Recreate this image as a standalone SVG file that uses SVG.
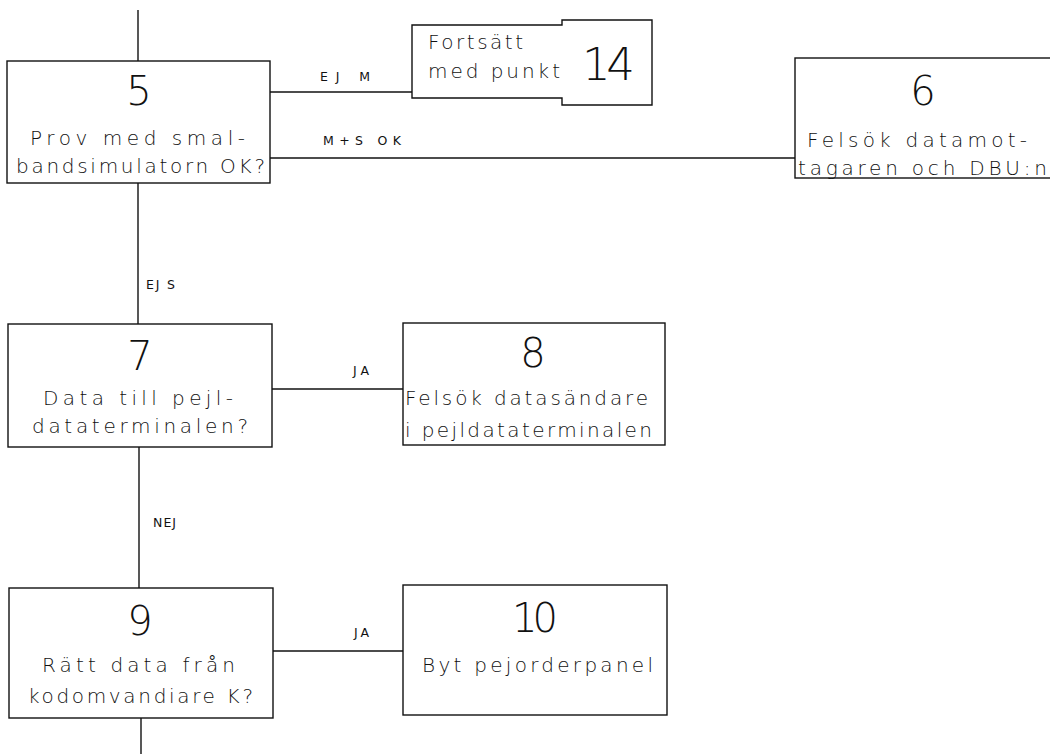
<svg xmlns="http://www.w3.org/2000/svg" width="1050" height="754" viewBox="0 0 1050 754">
<style>
.box{fill:none;stroke:#111;stroke-width:1.4}
.ln{fill:none;stroke:#111;stroke-width:1.4}
.num{font-family:"DejaVu Sans","Liberation Sans",sans-serif;font-weight:200;font-size:40px;fill:#111;text-anchor:middle}
.t{font-family:"DejaVu Sans","Liberation Sans",sans-serif;font-weight:200;font-size:20px;fill:#111}
.lbl{font-family:"DejaVu Sans","Liberation Sans",sans-serif;font-size:12.5px;fill:#111}
</style>
<rect width="1050" height="754" fill="#fff"/>
<g id="connectors">
<line class="ln" x1="138" y1="10" x2="138" y2="61"/>
<line class="ln" x1="270" y1="92" x2="412" y2="92"/>
<line class="ln" x1="270" y1="158" x2="795" y2="158"/>
<line class="ln" x1="138" y1="183" x2="138" y2="324"/>
<line class="ln" x1="272" y1="389" x2="403" y2="389"/>
<line class="ln" x1="139" y1="447" x2="139" y2="588"/>
<line class="ln" x1="273" y1="651" x2="403" y2="651"/>
<line class="ln" x1="141" y1="718" x2="141" y2="754"/>
<text class="lbl" x="320" y="81" textLength="50" lengthAdjust="spacing">EJ M</text>
<text class="lbl" x="323" y="145" textLength="78" lengthAdjust="spacing">M+S OK</text>
<text class="lbl" x="146" y="289" textLength="29" lengthAdjust="spacing">EJ S</text>
<text class="lbl" x="153" y="527" textLength="23" lengthAdjust="spacing">NEJ</text>
<text class="lbl" x="353" y="375" textLength="16" lengthAdjust="spacing">JA</text>
<text class="lbl" x="354" y="637" textLength="15" lengthAdjust="spacing">JA</text>
</g>
<g id="node5">
<rect class="box" x="7" y="61" width="263" height="122"/>
<text class="num" x="139" y="105">5</text>
<text class="t" x="30" y="145" textLength="215" lengthAdjust="spacing">Prov med smal-</text>
<text class="t" x="16" y="173" textLength="249" lengthAdjust="spacing">bandsimulatorn OK?</text>
</g>
<g id="node14">
<path class="box" d="M412,25 H562 V20 H652 V105 H562 V98 H412 Z"/>
<text class="t" x="428" y="49" textLength="95" lengthAdjust="spacing">Fortsätt</text>
<text class="t" x="428" y="78" textLength="132" lengthAdjust="spacing">med punkt</text>
<text class="num" x="582" y="80" style="font-size:45px;text-anchor:start" textLength="53" lengthAdjust="spacing">14</text>
</g>
<g id="node6">
<rect class="box" x="795" y="58" width="265" height="120"/>
<text class="num" x="923" y="105">6</text>
<text class="t" x="807" y="147" textLength="220" lengthAdjust="spacing">Felsök datamot-</text>
<text class="t" x="798" y="175" textLength="249" lengthAdjust="spacing">tagaren och DBU:n</text>
</g>
<g id="node7">
<rect class="box" x="8" y="324" width="264" height="123"/>
<text class="num" x="140" y="370">7</text>
<text class="t" x="43" y="405" textLength="190" lengthAdjust="spacing">Data till pejl-</text>
<text class="t" x="32" y="433" textLength="216" lengthAdjust="spacing">dataterminalen?</text>
</g>
<g id="node8">
<rect class="box" x="403" y="323" width="262" height="122"/>
<text class="num" x="533" y="367">8</text>
<text class="t" x="405" y="405" textLength="243" lengthAdjust="spacing">Felsök datasändare</text>
<text class="t" x="405" y="437" textLength="247" lengthAdjust="spacing">i pejldataterminalen</text>
</g>
<g id="node9">
<rect class="box" x="9" y="588" width="264" height="130"/>
<text class="num" x="140" y="635">9</text>
<text class="t" x="42" y="672" textLength="193" lengthAdjust="spacing">Rätt data från</text>
<text class="t" x="28" y="703" textLength="225" lengthAdjust="spacing">kodomvandiare K?</text>
</g>
<g id="node10">
<rect class="box" x="403" y="585" width="264" height="130"/>
<text class="num" x="512" y="632" style="text-anchor:start" textLength="46" lengthAdjust="spacing">10</text>
<text class="t" x="422" y="672" textLength="231" lengthAdjust="spacing">Byt pejorderpanel</text>
</g>
</svg>
